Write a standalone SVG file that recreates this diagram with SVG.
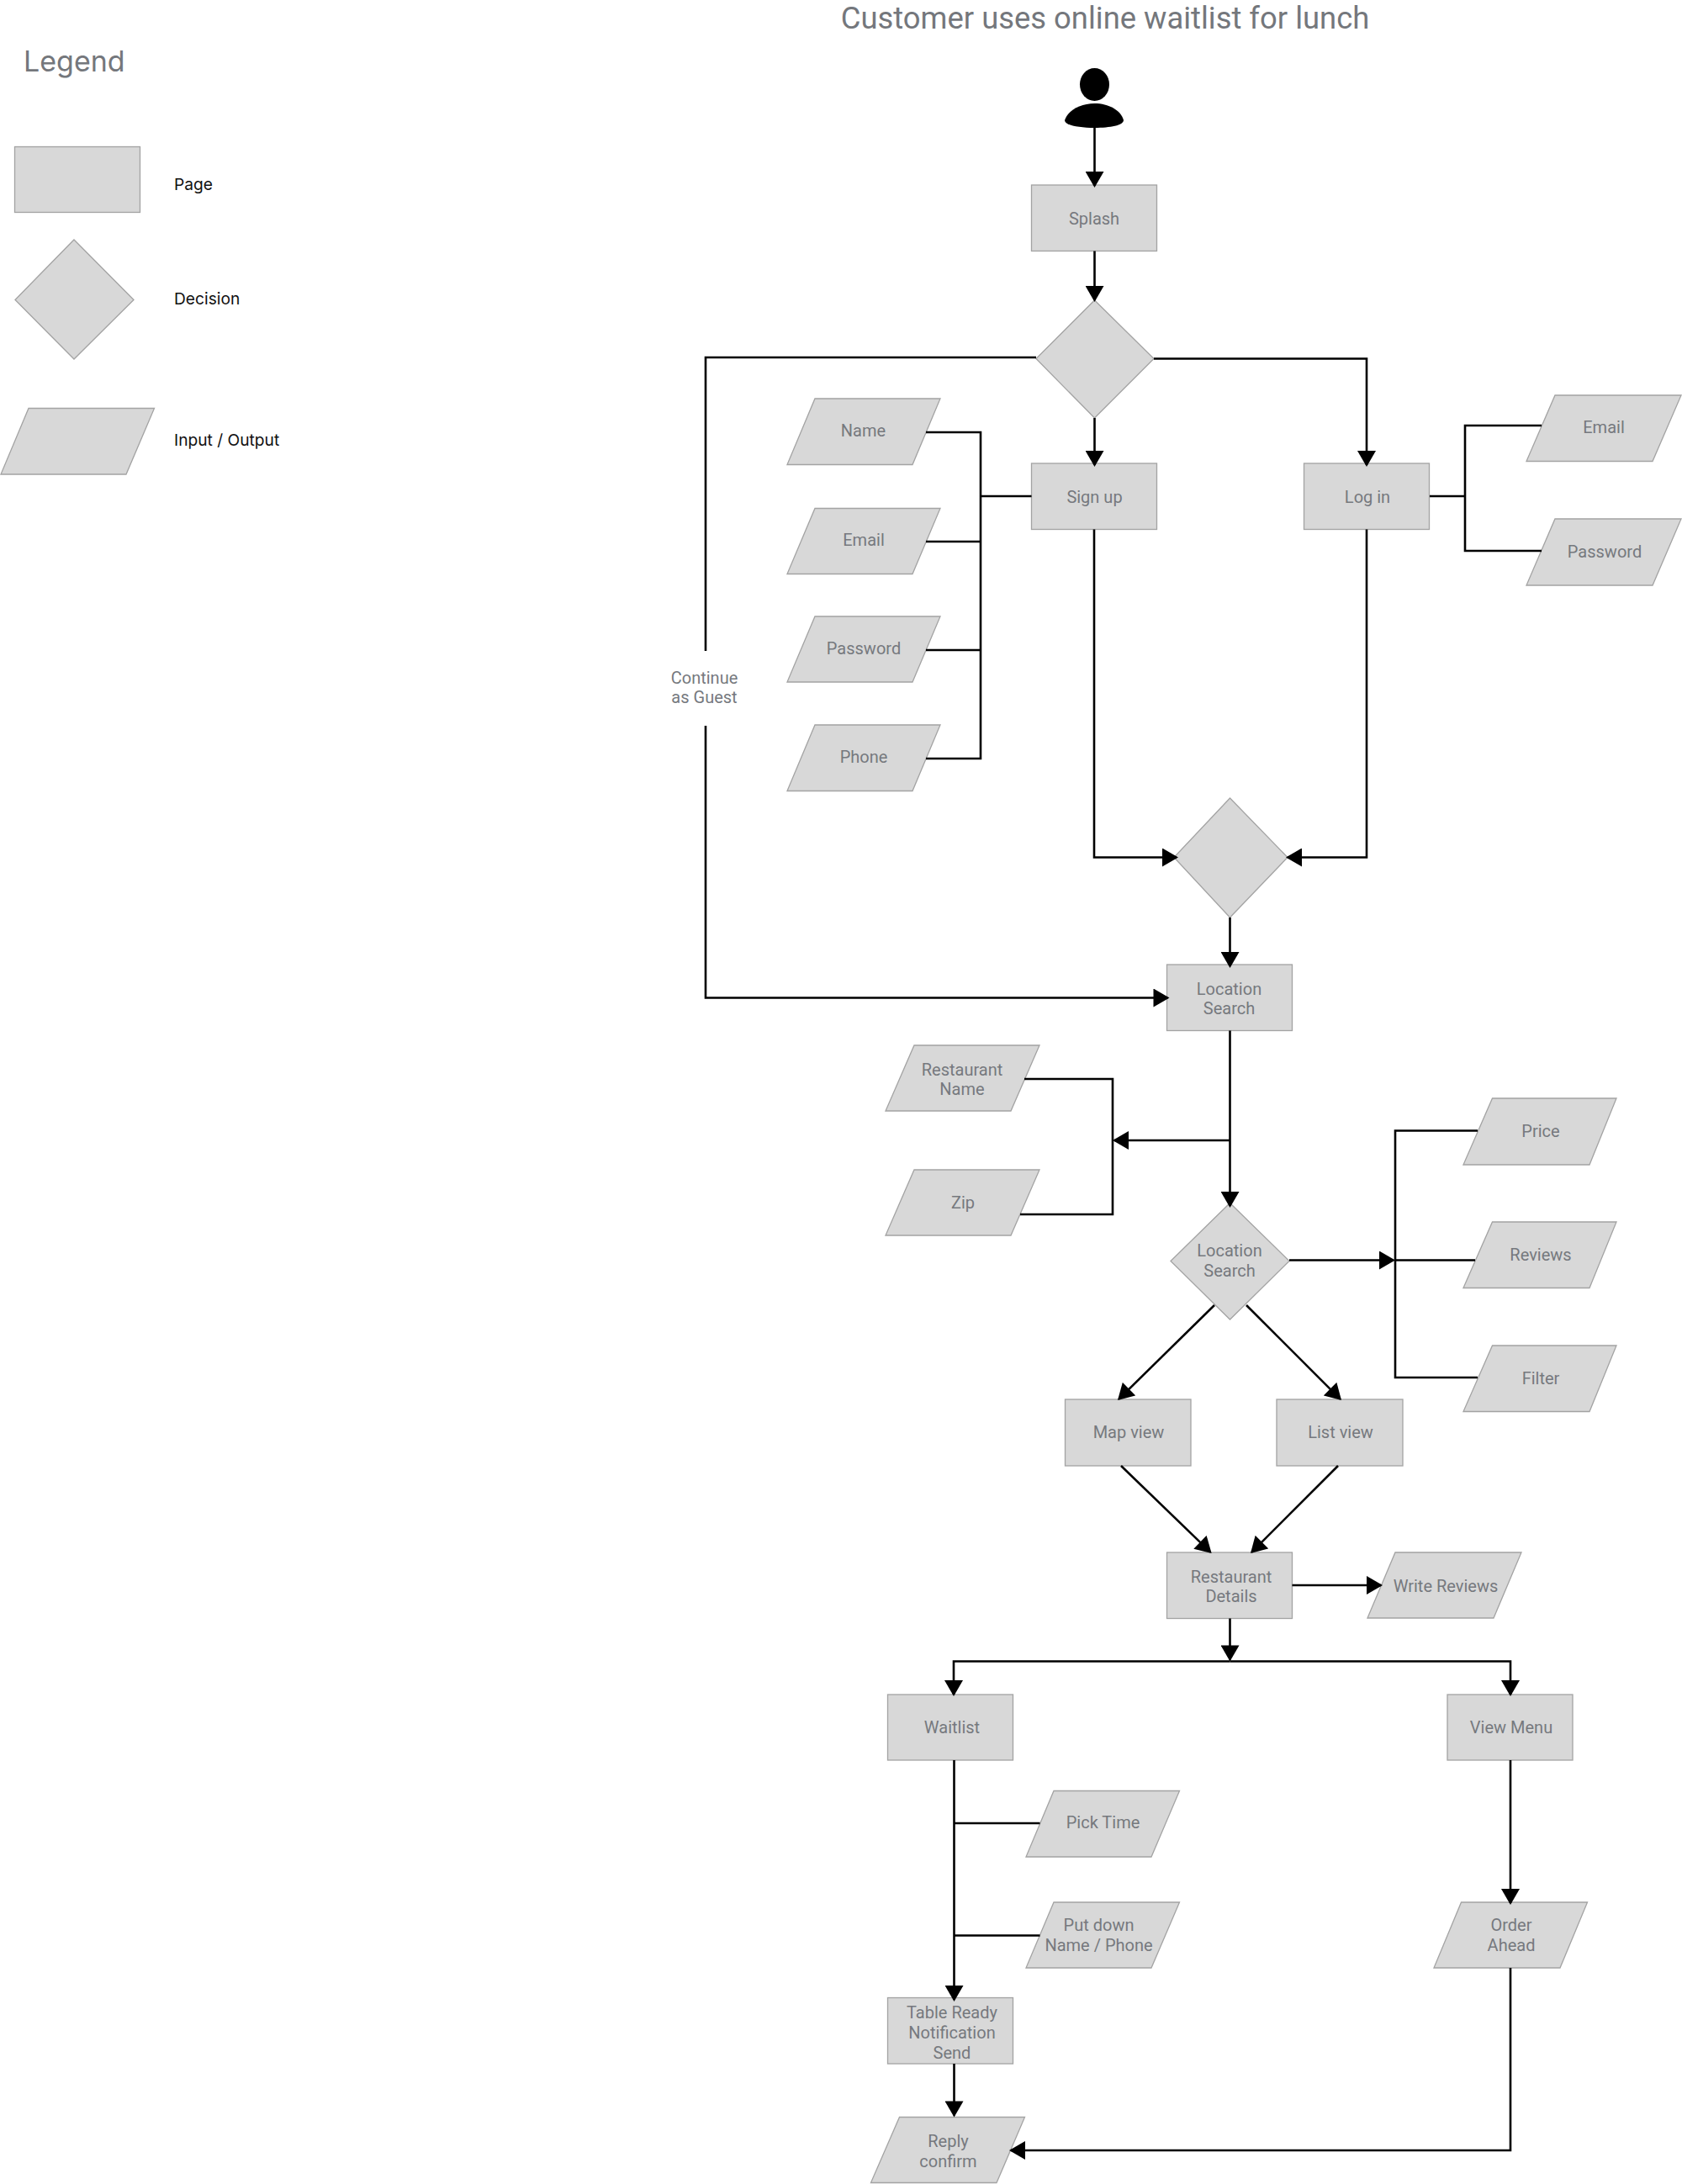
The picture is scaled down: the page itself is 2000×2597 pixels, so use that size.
<svg xmlns="http://www.w3.org/2000/svg" width="2000" height="2597" viewBox="0 0 2000 2597">
<style>
.n{fill:#d8d8d8;stroke:#a3a3a3;stroke-width:1.3}
.t{font-family:Roboto,"Liberation Sans",sans-serif;font-size:20px;fill:#76797e;text-anchor:middle}
.l{font-family:Inter,"Liberation Sans",sans-serif;font-size:19.2px;fill:#111}
.c path{fill:none;stroke:#000;stroke-width:2.6}
.a{marker-end:url(#arrow)}
</style>
<defs>
<marker id="arrow" markerUnits="userSpaceOnUse" markerWidth="20" markerHeight="22" viewBox="0 0 19 22" refX="17" refY="11" orient="auto"><path d="M0,0 L19,11 L0,22 Z" fill="#000"/></marker>
</defs>
<rect width="2000" height="2597" fill="#fff"/>
<g id="titles">
<text x="1314" y="34" font-family="Roboto,'Liberation Sans',sans-serif" font-size="36.4" fill="#74777c" text-anchor="middle">Customer uses online waitlist for lunch</text>
<text x="28" y="85" font-family="Inter,'Liberation Sans',sans-serif" font-size="34" fill="#74777c">Legend</text>
</g>
<g id="legend">
<g id="legend-page"><rect class="n" x="17.5" y="174.5" width="149" height="78"/><text class="l" x="207" y="226">Page</text></g>
<g id="legend-decision"><polygon class="n" points="88,285 159,356.5 88,427 18,356.5"/><text class="l" x="207" y="362">Decision</text></g>
<g id="legend-io"><polygon class="n" points="34,485.5 183.5,485.5 150,564 1,564"/><text class="l" x="207" y="530">Input / Output</text></g>
</g>
<g id="nodes">
<g id="person"><ellipse cx="1301.5" cy="100.5" rx="17.5" ry="19.5" fill="#000"/><path d="M1266,143 C1270,131 1285,123 1301.5,123 C1318,123 1333,131 1336,143 C1336,149 1320,152 1301.5,152 C1283,152 1266,149 1266,143 Z" fill="#000"/></g>
<g id="splash"><rect class="n" x="1226.5" y="220" width="149" height="78.5"/><text class="t" x="1301" y="267">Splash</text></g>
<g id="decision1"><polygon class="n" points="1301.5,357 1372,426.5 1301.5,497 1232,426.5"/></g>
<g id="signup"><rect class="n" x="1226.5" y="551" width="149" height="78.5"/><text class="t" x="1301.5" y="598">Sign up</text></g>
<g id="login"><rect class="n" x="1550.5" y="551" width="149" height="78.5"/><text class="t" x="1626" y="598">Log in</text></g>
<g id="in-name"><polygon class="n" points="969,474 1118,474 1085,552.5 936,552.5"/><text class="t" x="1026.5" y="519">Name</text></g>
<g id="in-email"><polygon class="n" points="969,604.5 1118,604.5 1085,682.5 936,682.5"/><text class="t" x="1027" y="649">Email</text></g>
<g id="in-password"><polygon class="n" points="969,733 1118,733 1085,811 936,811"/><text class="t" x="1027" y="778">Password</text></g>
<g id="in-phone"><polygon class="n" points="969,862 1118,862 1085,940.5 936,940.5"/><text class="t" x="1027" y="907">Phone</text></g>
<g id="in-email2"><polygon class="n" points="1849,470 1999,470 1965,548.5 1815,548.5"/><text class="t" x="1907" y="515">Email</text></g>
<g id="in-password2"><polygon class="n" points="1849,617 1999,617 1965,696 1815,696"/><text class="t" x="1908" y="663">Password</text></g>
<g id="guest-label"><text class="t" x="837.5" y="812.5">Continue</text><text class="t" x="837.5" y="836">as Guest</text></g>
<g id="decision2"><polygon class="n" points="1462.5,949 1531,1019.5 1462.5,1091 1396,1019.5"/></g>
<g id="location"><rect class="n" x="1387.5" y="1147" width="149" height="78.5"/><text class="t" x="1461.5" y="1182.5">Location</text><text class="t" x="1461.5" y="1206">Search</text></g>
<g id="in-restname"><polygon class="n" points="1087,1243 1236,1243 1202,1321 1053,1321"/><text class="t" x="1144" y="1278.5">Restaurant</text><text class="t" x="1144" y="1302">Name</text></g>
<g id="in-zip"><polygon class="n" points="1087,1391 1236,1391 1202,1469 1053,1469"/><text class="t" x="1145" y="1436.5">Zip</text></g>
<g id="decision3"><polygon class="n" points="1462.5,1430.5 1533,1499.5 1462.5,1569 1392,1499.5"/><text class="t" x="1462" y="1494">Location</text><text class="t" x="1462" y="1518">Search</text></g>
<g id="in-price"><polygon class="n" points="1774.5,1306 1922,1306 1890,1385 1740,1385"/><text class="t" x="1832" y="1352">Price</text></g>
<g id="in-reviews"><polygon class="n" points="1774.5,1453 1922,1453 1890,1531.5 1740,1531.5"/><text class="t" x="1832" y="1499">Reviews</text></g>
<g id="in-filter"><polygon class="n" points="1774.5,1600 1922,1600 1890,1678.5 1740,1678.5"/><text class="t" x="1832" y="1646">Filter</text></g>
<g id="mapview"><rect class="n" x="1266.5" y="1664" width="149.5" height="79"/><text class="t" x="1342" y="1710">Map view</text></g>
<g id="listview"><rect class="n" x="1518" y="1664" width="150" height="79"/><text class="t" x="1594" y="1710">List view</text></g>
<g id="details"><rect class="n" x="1387.5" y="1846" width="149" height="78.5"/><text class="t" x="1464" y="1881.5">Restaurant</text><text class="t" x="1464" y="1905">Details</text></g>
<g id="in-write"><polygon class="n" points="1659,1846 1809,1846 1776,1924 1626,1924"/><text class="t" x="1719" y="1893">Write Reviews</text></g>
<g id="waitlist"><rect class="n" x="1055.5" y="2015" width="149" height="78"/><text class="t" x="1132" y="2061">Waitlist</text></g>
<g id="viewmenu"><rect class="n" x="1721" y="2015" width="149" height="78"/><text class="t" x="1797" y="2061">View Menu</text></g>
<g id="in-pick"><polygon class="n" points="1253,2129.5 1402.5,2129.5 1369,2208 1220,2208"/><text class="t" x="1311.5" y="2174">Pick Time</text></g>
<g id="in-put"><polygon class="n" points="1253,2262 1402.5,2262 1369,2340 1220,2340"/><text class="t" x="1306.5" y="2296">Put down</text><text class="t" x="1306.5" y="2320">Name / Phone</text></g>
<g id="in-order"><polygon class="n" points="1737.5,2262 1887.5,2262 1855,2340 1705,2340"/><text class="t" x="1797" y="2296">Order</text><text class="t" x="1797" y="2320">Ahead</text></g>
<g id="tableready"><rect class="n" x="1055.5" y="2375.5" width="149" height="78.5"/><text class="t" x="1132" y="2400">Table Ready</text><text class="t" x="1132" y="2424">Notification</text><text class="t" x="1132" y="2448">Send</text></g>
<g id="in-reply"><polygon class="n" points="1069.5,2517.5 1218.5,2517.5 1185,2595.5 1035.5,2595.5"/><text class="t" x="1127.5" y="2553">Reply</text><text class="t" x="1127.5" y="2577">confirm</text></g>
</g>
<g id="connectors" class="c">
<path class="a" d="M1301.5,152V221"/>
<path class="a" d="M1301.5,298.5V357"/>
<path d="M1232,425H839V774"/>
<path class="a" d="M839,863V1186.5H1388.5"/>
<path class="a" d="M1372,426.5H1625V553"/>
<path class="a" d="M1301.5,497V553"/>
<path d="M1101,514H1166V902H1101M1101,644H1166M1101,773H1166M1166,590H1226.5"/>
<path d="M1700,590H1742M1833,506H1742V655H1833"/>
<path class="a" d="M1301,629.5V1019.5H1399"/>
<path class="a" d="M1625,629.5V1019.5H1531"/>
<path class="a" d="M1462.5,1091V1149"/>
<path class="a" d="M1462.5,1225.5V1434"/>
<path class="a" d="M1462.5,1356H1325"/>
<path d="M1218,1283H1323V1444H1213"/>
<path class="a" d="M1533,1498.5H1657"/>
<path d="M1757,1344.5H1659V1638H1757M1659,1498.5H1754"/>
<path class="a" d="M1444,1552L1330.4,1663.6"/>
<path class="a" d="M1482,1552L1593.6,1663.6"/>
<path class="a" d="M1333,1743L1439.2,1845.6"/>
<path class="a" d="M1591,1743L1488.4,1845.6"/>
<path class="a" d="M1536.5,1885H1642"/>
<path class="a" d="M1462.5,1924.5V1973.5"/>
<path class="a" d="M1462.5,1975.5H1134V2015"/>
<path class="a" d="M1462.5,1975.5H1796V2015"/>
<path class="a" d="M1134.5,2093V2378"/>
<path d="M1134.5,2168H1236.5M1134.5,2301.5H1236.5"/>
<path class="a" d="M1134.5,2454V2515.5"/>
<path class="a" d="M1796,2093V2263"/>
<path class="a" d="M1796,2340V2557H1202"/>
</g>
</svg>
